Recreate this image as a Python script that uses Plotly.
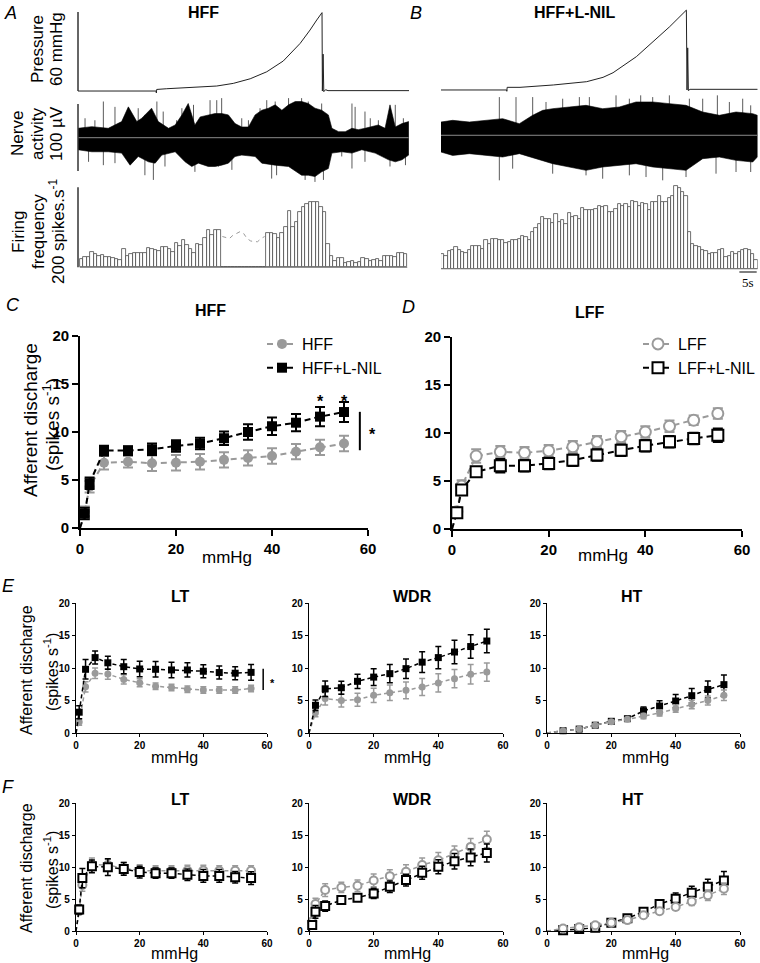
import plotly.graph_objects as go

W, H = 760, 963
def fx(p): return p / W
def fy(p): return 1 - p / H

GREY = "#9a9a9a"
BLACK = "#000000"
FONT = "Liberation Sans, Arial, sans-serif"

# ---------------- Panel A (HFF) raw recording ----------------
a_press_t = [0, 22.2, 22.25, 22.35, 25.2, 34.7, 39.4, 44.1, 48.9, 53.6, 58.3, 63.1, 65.0, 65.9, 67.8, 69.3, 69.4, 69.6, 69.8, 70.3, 71, 94]
a_press_v = [0, 0, -1.5, 1.2, 1.75, 2.8, 3.8, 5.8, 9.3, 14.6, 22.8, 36.2, 42.5, 46.3, 53.9, 59.5, 0, 28, -0.5, 1, 0.3, 0.3]

a_up_t = [0, 3.9, 8.6, 12.4, 14.3, 16.7, 18.1, 20.9, 22.8, 25.7, 27.6, 29.5, 31.3, 33.2, 34.7, 37.0, 38.9, 40.8, 42.7, 44.6,
          46.5, 48.4, 50.3, 52.2, 54.1, 56.0, 57.9, 59.8, 61.7, 63.5, 65.4, 67.3, 69.2, 71.1, 72.1, 74.0, 75.9, 77.8, 79.6, 81.5,
          83.4, 85.3, 87.2, 88.6, 90.1, 92.0, 93.9]
a_up_v = [14, 16.5, 14, 24, 46, 24, 29, 44, 24, 14, 19, 34, 51, 19, 31, 34, 36, 36, 34, 21,
          16, 16, 34, 41, 44, 49, 41, 49, 54, 54, 51, 44, 41, 34, 14, 9, 9, 14, 12, 14,
          16, 19, 14, 49, 16, 21, 24]
a_lo_t = [0, 3.9, 8.6, 12.4, 14.8, 17.1, 20.0, 21.9, 23.8, 27.6, 30.4, 32.3, 34.2, 37.0, 38.9, 40.8, 42.7, 44.6, 46.5, 50.3,
          52.2, 56.0, 59.8, 63.5, 65.4, 67.3, 69.2, 71.1, 72.1, 74.9, 77.8, 80.6, 84.4, 88.2, 90.1, 92.0, 93.9]
a_lo_v = [-18, -21, -21, -23, -41, -28, -36, -38, -26, -21, -36, -43, -38, -43, -43, -41, -38, -28, -26, -28,
          -38, -41, -43, -56, -56, -58, -51, -46, -23, -21, -23, -18, -23, -33, -36, -33, -26]
a_spk_t = [2.0, 4.8, 7.2, 10.5, 17.1, 19.0, 22.4, 24.2, 28.0, 29.5, 32.8, 37.5, 39.4, 40.8, 46.5, 48.4, 51.7, 53.6, 56.0, 59.8,
           63.5, 65.4, 69.2, 77.8, 78.7, 81.5, 83.0, 85.3, 90.1, 92.4,
           3.0, 7.2, 10.5, 19.0, 21.4, 24.7, 33.2, 39.9, 43.7, 55.0, 56.4, 64.5, 67.3, 69.7, 74.9, 77.8, 81.5, 88.6, 93.0]
a_spk_v = [29, 26, 54, 46, 44, 34, 54, 39, 26, 44, 49, 56, 56, 59, 29, 26, 44, 56, 54, 59,
           59, 54, 51, 51, 46, 39, 29, 26, 49, 29,
           -36, -41, -38, -56, -63, -43, -51, -43, -48, -61, -56, -63, -66, -63, -28, -46, -36, -43, -41]

a_bins = [21, 27, 27, 37.5, 34, 29, 31, 26, 25, 23,
          21, 19, 45, 29, 32.5, 37, 37, 37, 37, 47.5,
          46, 42.5, 41, 52, 50, 46, 39, 60, 53, 68,
          56, 46, 35, 57.5, 56, 72.5, 93, 81, 93, 93,
          0, 0, 0, 0, 0, 0, 0, 0, 0, 0, 0, 0, 0,
          85, 85, 82.5, 74, 87, 102, 141, 102, 114, 139,
          152, 157.5, 162.5, 164, 162.5, 152, 139, 58, 29, 17,
          22.5, 22.5, 10, 12.5, 16, 10, 14, 22.5, 20, 17,
          18, 21, 17, 29, 29, 29, 27, 35, 35, 34]
a_gap_t = [41, 42, 43, 44, 45, 46, 47, 48, 49, 50, 51, 52, 53]
a_gap_v = [77, 74, 72, 80, 85, 89, 85, 72, 66, 64, 64, 72, 77]

# ---------------- Panel B (HFF+L-NIL) raw recording ----------------
b_press_t = [0.5, 20.2, 20.25, 20.35, 24.2, 34.2, 44.2, 49.1, 52.1, 54.1, 59.1, 64.1, 69.1, 74.1, 74.3, 74.5, 74.7, 75.2, 95.5]
b_press_v = [0, 0, -1.0, 2.0, 2.0, 3.8, 6.3, 9.6, 13.1, 16.5, 25.3, 36.7, 48.1, 60.7, 0, 32, -0.5, 0.5, 0.5]

b_up_t = [0.5, 4, 9, 14, 19, 24, 28, 31, 34, 39, 44, 49, 54, 59, 64, 69, 74, 79, 84, 89, 94, 95.4]
b_up_v = [19.8, 22.3, 19.8, 22.3, 24.8, 17.3, 29.8, 37.2, 39.7, 42.2, 44.7, 39.7, 42.2, 49.7, 49.7, 47.2, 44.7, 34.7, 29.8, 34.7, 32.3, 29.8]
b_lo_t = [0.5, 4, 9, 14, 19, 24, 29, 34, 39, 44, 49, 54, 59, 64, 69, 74, 79, 84, 89, 94, 95.4]
b_lo_v = [-25, -30, -27.4, -30, -32.4, -27.4, -34.9, -42.4, -47.3, -52.3, -47.3, -44.9, -42.4, -47.3, -49.8, -52.3, -34.9, -32.4, -37.4, -39.9, -32.4]
b_spk_t = [18, 23, 28, 32, 37, 42, 45, 53, 57, 60.4, 64, 69, 75, 79, 83.4, 87, 91, 93.4,
           18, 22, 34, 44, 49, 57, 62, 67, 74, 83, 89, 93.4]
b_spk_v = [57, 57, 57, 49.7, 54.6, 57, 57, 59.6, 54.6, 59.6, 57, 59.6, 54.6, 54.6, 59.6, 49.7, 54.6, 44.7,
           -67.2, -49.8, -57.3, -59.8, -64.8, -59.8, -62.3, -67.2, -62.3, -57.3, -54.8, -54.8]

b_bins = [37.5, 33, 44, 46, 54, 47.5, 42, 40, 46, 57,
          58, 58, 50, 71, 62.5, 75, 75, 71, 71, 65,
          68, 71, 71, 75, 83, 79, 71, 93, 102, 112.5,
          129, 125, 125, 115, 137, 117, 121, 112.5, 140, 129,
          132, 125, 152, 148, 148, 148, 150, 158, 154, 157,
          142, 143, 150, 162.5, 157, 162.5, 154, 170, 167, 158,
          165, 162.5, 148, 167, 167, 183, 167, 167, 177, 183,
          206, 202, 192, 182, 92, 62.5, 58, 54, 46, 44,
          37.5, 40, 40, 46, 50, 29, 33, 42, 37.5, 43,
          46, 50, 46, 37.5, 21]

# ---------------- Panels C-F: afferent discharge (spikes/s) vs pressure (mmHg) ----------------
cd_x = [0, 1, 2, 5, 10, 15, 20, 25, 30, 35, 40, 45, 50, 55]
c_hff = [0, 1.73, 4.3, 6.8, 6.9, 6.75, 6.8, 6.9, 7.1, 7.3, 7.5, 7.95, 8.4, 8.8]
c_hff_err = [0, 0.5, 0.6, 0.7, 0.6, 0.8, 0.8, 0.8, 0.8, 0.8, 0.8, 0.8, 0.8, 0.8]
c_nil = [0, 1.5, 4.67, 8.06, 8.06, 8.2, 8.55, 8.8, 9.35, 10.0, 10.6, 10.97, 11.6, 12.08]
c_nil_err = [0, 0.6, 0.6, 0.5, 0.45, 0.6, 0.6, 0.6, 0.7, 0.8, 0.9, 0.9, 1.0, 1.05]

d_lff = [0, 1.8, 4.47, 7.6, 8.04, 7.94, 8.15, 8.56, 9.08, 9.6, 10.1, 10.7, 11.33, 12.03]
d_lff_err = [0, 0.5, 0.6, 0.7, 0.6, 0.6, 0.6, 0.6, 0.6, 0.6, 0.6, 0.6, 0.5, 0.55]
d_nil = [0, 1.7, 4.06, 5.96, 6.59, 6.59, 6.83, 7.17, 7.7, 8.2, 8.67, 9.08, 9.43, 9.77]
d_nil_err = [0, 0.5, 0.5, 0.5, 0.7, 0.6, 0.6, 0.6, 0.6, 0.6, 0.6, 0.6, 0.6, 0.7]

e_lt_x = [0, 1, 3, 6, 10, 15, 20, 25, 30, 35, 40, 45, 50, 55]
e_lt_hff = [0, 1.7, 7.1, 9.2, 9.07, 8.25, 7.73, 7.2, 7.0, 6.75, 6.6, 6.6, 6.6, 6.86]
e_lt_hff_err = [0, 0.5, 0.8, 0.8, 0.8, 0.7, 0.6, 0.5, 0.5, 0.5, 0.5, 0.5, 0.5, 0.5]
e_lt_nil = [0, 3.2, 9.8, 11.6, 10.8, 10.2, 9.85, 9.8, 9.7, 9.7, 9.5, 9.3, 9.2, 9.33]
e_lt_nil_err = [0, 1.0, 1.5, 1.0, 1.0, 1.1, 1.2, 1.2, 1.2, 1.1, 1.0, 1.0, 1.0, 1.2]

e_wdr_x = [0, 2, 5, 10, 15, 20, 25, 30, 35, 40, 45, 50, 55]
e_wdr_hff = [0, 3.1, 5.3, 5.0, 5.13, 5.8, 6.2, 6.56, 7.08, 7.7, 8.36, 9.03, 9.38]
e_wdr_hff_err = [0, 0.6, 1.0, 1.0, 1.0, 1.1, 1.2, 1.3, 1.3, 1.4, 1.4, 1.5, 1.4]
e_wdr_nil = [0, 4.26, 6.8, 6.97, 7.95, 8.6, 9.13, 9.9, 10.9, 11.6, 12.46, 13.3, 14.15]
e_wdr_nil_err = [0, 0.8, 1.2, 1.0, 1.1, 1.3, 1.4, 1.5, 1.6, 1.7, 1.8, 1.8, 1.8]

ht_x = [0, 5, 10, 15, 20, 25, 30, 35, 40, 45, 50, 55]
e_ht_hff = [0, 0.35, 0.6, 1.2, 1.75, 2.1, 2.6, 3.08, 3.74, 4.4, 5.0, 5.8]
e_ht_hff_err = [0, 0.1, 0.15, 0.2, 0.25, 0.3, 0.4, 0.45, 0.55, 0.65, 0.7, 0.8]
e_ht_nil = [0, 0.35, 0.6, 1.2, 1.8, 2.2, 3.4, 4.15, 4.92, 5.74, 6.7, 7.44]
e_ht_nil_err = [0, 0.1, 0.15, 0.2, 0.25, 0.3, 0.6, 0.8, 1.0, 1.1, 1.3, 1.5]

f_lt_lff = [0, 3.1, 7.2, 10.4, 10.3, 9.8, 9.46, 9.4, 9.4, 9.46, 9.46, 9.4, 9.4, 9.4]
f_lt_lff_err = [0, 0.5, 1.0, 1.0, 0.9, 0.9, 0.9, 0.8, 0.8, 0.8, 0.8, 0.8, 0.8, 0.8]
f_lt_nil = [0, 3.36, 8.27, 10.1, 9.97, 9.7, 9.2, 9.04, 9.04, 8.8, 8.6, 8.6, 8.4, 8.27]
f_lt_nil_err = [0, 0.7, 1.5, 1.0, 1.3, 1.0, 0.9, 0.8, 0.8, 0.9, 1.0, 1.0, 0.9, 1.0]

f_wdr_lff = [0, 1.45, 4.2, 6.4, 6.8, 7.06, 7.9, 8.57, 9.25, 10.3, 11.06, 12.1, 13.14, 14.3]
f_wdr_lff_err = [0, 0.6, 0.9, 1.0, 0.8, 0.9, 1.0, 1.0, 1.1, 1.1, 1.2, 1.2, 1.3, 1.3]
f_wdr_nil = [0, 0.94, 3.0, 3.9, 4.83, 5.2, 5.87, 6.9, 7.95, 9.1, 10.03, 10.9, 11.5, 12.2]
f_wdr_nil_err = [0, 0.5, 1.0, 0.8, 0.4, 0.4, 0.8, 0.9, 0.9, 1.0, 1.1, 1.2, 1.3, 1.4]

f_ht_lff = [0, 0.4, 0.6, 0.9, 1.3, 1.7, 2.45, 3.1, 3.75, 4.6, 5.57, 6.6]
f_ht_lff_err = [0, 0.1, 0.1, 0.15, 0.2, 0.25, 0.3, 0.4, 0.5, 0.6, 0.8, 0.9]
f_ht_nil = [0, 0.1, 0.3, 0.5, 1.3, 2.0, 3.0, 4.2, 5.05, 5.99, 6.9, 7.9]
f_ht_nil_err = [0, 0.1, 0.1, 0.15, 0.2, 0.3, 0.4, 0.7, 0.9, 1.0, 1.2, 1.4]

x_ticks = [0, 20, 40, 60]
y_ticks = [0, 5, 10, 15, 20]

fig = go.Figure()

def axn(i):
    return ("x" if i == 1 else f"x{i}"), ("y" if i == 1 else f"y{i}")

# ---- raw recordings ----
def add_recording(ip, press_t, press_v, up_t, up_v, lo_t, lo_v, spk_t, spk_v, bins):
    xa, ya = axn(ip)
    fig.add_trace(go.Scatter(x=press_t, y=press_v, mode="lines", line=dict(color="#222", width=1),
                             xaxis=xa, yaxis=ya, showlegend=False, hoverinfo="skip"))
    xa, ya = axn(ip + 1)
    sx, sy = [], []
    for t, v in zip(spk_t, spk_v):
        sx += [t, t, None]
        sy += [0, v, None]
    fig.add_trace(go.Scatter(x=sx, y=sy, mode="lines", line=dict(color="#5a5a5a", width=1),
                             xaxis=xa, yaxis=ya, showlegend=False, hoverinfo="skip"))
    fig.add_trace(go.Scatter(x=up_t + lo_t[::-1], y=up_v + lo_v[::-1], mode="lines", fill="toself",
                             fillcolor="black", line=dict(color="black", width=0.6),
                             xaxis=xa, yaxis=ya, showlegend=False, hoverinfo="skip"))
    fig.add_trace(go.Scatter(x=[up_t[0], up_t[-1]], y=[0, 0], mode="lines", line=dict(color="#8a8a8a", width=1),
                             xaxis=xa, yaxis=ya, showlegend=False, hoverinfo="skip"))
    xa, ya = axn(ip + 2)
    fig.add_trace(go.Bar(x=list(range(1, len(bins) + 1)), y=bins,
                         marker=dict(color="white", line=dict(color="#4a4a4a", width=0.8)),
                         xaxis=xa, yaxis=ya, showlegend=False, hoverinfo="skip"))

add_recording(1, a_press_t, a_press_v, a_up_t, a_up_v, a_lo_t, a_lo_v, a_spk_t, a_spk_v, a_bins)
fig.add_trace(go.Scatter(x=a_gap_t, y=a_gap_v, mode="lines", line=dict(color="#9a9a9a", width=1, dash="4px,4px"),
                         xaxis="x3", yaxis="y3", showlegend=False, hoverinfo="skip"))
add_recording(4, b_press_t, b_press_v, b_up_t, b_up_v, b_lo_t, b_lo_v, b_spk_t, b_spk_v, b_bins)

# ---- discharge curves ----
def add_series(i, xs, ys, es, color, symbol, hollow, msize, lw, ew, cap, dash, name=None, legend=None):
    xa, ya = axn(i)
    fig.add_trace(go.Scatter(x=xs[:2], y=ys[:2], mode="lines", line=dict(color=color, width=lw, dash=dash),
                             xaxis=xa, yaxis=ya, showlegend=False, cliponaxis=False, hoverinfo="skip"))
    fig.add_trace(go.Scatter(
        x=xs[1:], y=ys[1:], mode="lines+markers",
        error_y=dict(type="data", array=es[1:], color=color, thickness=ew, width=cap),
        marker=dict(symbol=symbol, size=msize, color="white" if hollow else color,
                    line=dict(color=color, width=2 if hollow else 0)),
        line=dict(color=color, width=lw, dash=dash),
        xaxis=xa, yaxis=ya, name=name, showlegend=name is not None,
        legend=legend if legend else "legend", cliponaxis=False))

BIGD = "6px,4px"
SMD = "4px,3px"
add_series(7, cd_x, c_hff, c_hff_err, GREY, "circle", False, 10, 2, 2, 5, BIGD, "HFF", "legend")
add_series(7, cd_x, c_nil, c_nil_err, BLACK, "square", False, 10, 2, 2, 5, BIGD, "HFF+L-NIL", "legend")
add_series(8, cd_x, d_lff, d_lff_err, GREY, "circle", True, 11, 2, 2, 5, BIGD, "LFF", "legend2")
add_series(8, cd_x, d_nil, d_nil_err, BLACK, "square", True, 11, 2, 2, 5, BIGD, "LFF+L-NIL", "legend2")

add_series(9, e_lt_x, e_lt_hff, e_lt_hff_err, GREY, "circle", False, 7, 1.5, 1.5, 3, SMD)
add_series(9, e_lt_x, e_lt_nil, e_lt_nil_err, BLACK, "square", False, 7, 1.5, 1.5, 3, SMD)
add_series(10, e_wdr_x, e_wdr_hff, e_wdr_hff_err, GREY, "circle", False, 7, 1.5, 1.5, 3, SMD)
add_series(10, e_wdr_x, e_wdr_nil, e_wdr_nil_err, BLACK, "square", False, 7, 1.5, 1.5, 3, SMD)
add_series(11, ht_x, e_ht_nil, e_ht_nil_err, BLACK, "square", False, 7, 1.5, 1.5, 3, SMD)
add_series(11, ht_x, e_ht_hff, e_ht_hff_err, GREY, "circle", False, 7, 1.5, 1.5, 3, SMD)

add_series(12, cd_x, f_lt_lff, f_lt_lff_err, GREY, "circle", True, 8, 1.5, 1.5, 3, SMD)
add_series(12, cd_x, f_lt_nil, f_lt_nil_err, BLACK, "square", True, 8, 1.5, 1.5, 3, SMD)
add_series(13, cd_x, f_wdr_lff, f_wdr_lff_err, GREY, "circle", True, 8, 1.5, 1.5, 3, SMD)
add_series(13, cd_x, f_wdr_nil, f_wdr_nil_err, BLACK, "square", True, 8, 1.5, 1.5, 3, SMD)
add_series(14, ht_x, f_ht_nil, f_ht_nil_err, BLACK, "square", True, 8, 1.5, 1.5, 3, SMD)
add_series(14, ht_x, f_ht_lff, f_ht_lff_err, GREY, "circle", True, 8, 1.5, 1.5, 3, SMD)

# ---- axes ----
layout = {}
def set_axes(i, xpx, ypx, xr, yr, chart=False, big=False):
    xk = "xaxis" if i == 1 else f"xaxis{i}"
    yk = "yaxis" if i == 1 else f"yaxis{i}"
    xa, ya = axn(i)
    xd = dict(domain=[fx(xpx[0]), fx(xpx[1])], range=xr, anchor=ya, showgrid=False, zeroline=False,
              fixedrange=True, automargin=False)
    yd = dict(domain=[fy(ypx[1]), fy(ypx[0])], range=yr, anchor=xa, showgrid=False, zeroline=False,
              fixedrange=True, automargin=False)
    if chart:
        lw = 1.6 if big else 1.2
        tl = 6 if big else 3
        fs = 15 if big else 10
        common = dict(showline=True, linecolor="black", linewidth=lw, ticks="outside", ticklen=tl,
                      tickwidth=lw, tickcolor="black",
                      tickfont=dict(family=FONT, size=fs, color="black", weight="bold"))
        xd.update(common, tickvals=x_ticks)
        yd.update(common, tickvals=y_ticks)
    else:
        xd.update(visible=False)
        yd.update(visible=False)
    layout[xk] = xd
    layout[yk] = yd

set_axes(1, (78, 409), (10, 93), [0, 94], [-1.5, 61.5])
set_axes(2, (78, 409), (96, 183), [0, 94], [-67.6, 62.2])
set_axes(3, (78, 409), (185, 269), [0, 94], [-4.25, 205.75])
set_axes(4, (441, 757.7), (8, 93), [0.5, 95.5], [-2.3, 62.3])
set_axes(5, (441, 757.7), (94, 183), [0.5, 95.5], [-71.2, 61.6])
set_axes(6, (441, 757.7), (184, 270), [0.5, 95.5], [-3.25, 211.75])
set_axes(7, (80, 368), (336, 528), [0, 60], [0, 20], True, True)
set_axes(8, (452, 742), (337, 529), [0, 60], [0, 20], True, True)
set_axes(9, (76, 267), (603, 733), [0, 60], [0, 20], True)
set_axes(10, (309, 503), (603, 733), [0, 60], [0, 20], True)
set_axes(11, (547, 740), (603, 733), [0, 60], [0, 20], True)
set_axes(12, (76, 267), (803, 931), [0, 60], [0, 20], True)
set_axes(13, (309, 503), (803, 931), [0, 60], [0, 20], True)
set_axes(14, (547, 740), (803, 931), [0, 60], [0, 20], True)

# ---- shapes: scale bars, baselines, significance bars ----
shapes = []
def vbar(xref, yref, x, y0, y1, color="#333", width=1.5):
    shapes.append(dict(type="line", xref=xref, yref=yref, x0=x, x1=x, y0=y0, y1=y1,
                       line=dict(color=color, width=width)))
vbar("x domain", "y", 0, 0, 60)
vbar("x2 domain", "y2", 0, -49.7, 50.3)
vbar("x3 domain", "y3", 0, 0, 200)
shapes.append(dict(type="line", xref="x3", yref="y3", x0=0.5, x1=93.5, y0=0, y1=0, line=dict(color="#777", width=1)))
shapes.append(dict(type="line", xref="x6", yref="y6", x0=0.5, x1=95.5, y0=0, y1=0, line=dict(color="#777", width=1)))
shapes.append(dict(type="line", xref="x6", yref="paper", x0=90, x1=95.2, y0=fy(272), y1=fy(272),
                   line=dict(color="black", width=1.2)))
vbar("x7", "y7", 58.3, 8.1, 12.1, color="black", width=2)
vbar("x9", "y9", 58.8, 6.6, 9.9, color="black", width=1.5)

# ---- annotations ----
anns = []
def ann(text, x, y, size, bold=False, italic=False, angle=0, family=FONT, xanchor="center", yanchor="middle"):
    if bold:
        text = f"<b>{text}</b>"
    if italic:
        text = f"<i>{text}</i>"
    anns.append(dict(text=text, x=fx(x), y=fy(y), xref="paper", yref="paper", showarrow=False,
                     font=dict(size=size, family=family, color="black"), textangle=angle,
                     xanchor=xanchor, yanchor=yanchor))

for letter, x, y in [("A", 10, 13), ("B", 416, 13), ("C", 13, 305), ("D", 408, 307), ("E", 8, 586), ("F", 8, 787)]:
    ann(letter, x, y, 18, italic=True)
ann("HFF", 203, 13, 16, bold=True)
ann("HFF+L-NIL", 575, 13, 16, bold=True)
ann("Pressure", 38, 49, 17, angle=-90)
ann("60 mmHg", 57, 49, 17, angle=-90)
ann("Nerve", 18, 134, 17, angle=-90)
ann("activity", 38, 134, 17, angle=-90)
ann("100 µV", 57, 134, 17, angle=-90)
ann("Firing", 18, 232, 17, angle=-90)
ann("frequency", 38, 232, 17, angle=-90)
ann("200 spikes.s<sup>-1</sup>", 57, 232, 17, angle=-90)
ann("5s", 747.5, 282, 13, family="Liberation Serif, Times New Roman, serif")

ann("HFF", 210, 310, 16, bold=True)
ann("LFF", 590, 312, 16, bold=True)
ann("Afferent discharge", 30, 420, 19, angle=-90)
ann("(spikes s<sup>-1</sup>)", 51, 425, 19, angle=-90)
ann("mmHg", 227, 557, 17)
ann("mmHg", 603, 555, 17)

for title, x in [("LT", 180), ("WDR", 412), ("HT", 632)]:
    ann(title, x, 596, 16, bold=True)
for title, x in [("LT", 180), ("WDR", 412), ("HT", 633)]:
    ann(title, x, 799, 16, bold=True)
for y0 in (670, 868):
    ann("Afferent discharge", 26, y0, 16, angle=-90)
    ann("(spikes s<sup>-1</sup>)", 51, y0 + 2, 16, angle=-90)
for x in (174, 407, 645):
    ann("mmHg", x, 757, 16)
    ann("mmHg", x, 953, 16)

# significance asterisks
ann("<b>*</b>", 372, 434, 16)
ann("<b>*</b>", 272, 683, 11)
for xs, ys in [(50, 13.2), (55, 13.2)]:
    anns.append(dict(text="<b>*</b>", x=xs, y=ys, xref="x7", yref="y7", showarrow=False,
                     font=dict(size=16, family=FONT, color="black"), xanchor="center", yanchor="middle"))

layout.update(
    width=W, height=H, margin=dict(l=0, r=0, t=0, b=0, pad=0, autoexpand=False), autosize=False,
    paper_bgcolor="white", plot_bgcolor="rgba(0,0,0,0)",
    bargap=0, barmode="overlay",
    font=dict(family=FONT, color="black"),
    shapes=shapes, annotations=anns,
    legend=dict(x=fx(262), y=fy(327), xanchor="left", yanchor="top", bgcolor="rgba(0,0,0,0)",
                font=dict(size=16, family=FONT, color="black"), itemwidth=30, tracegroupgap=0,
                traceorder="normal"),
    legend2=dict(x=fx(638), y=fy(327), xanchor="left", yanchor="top", bgcolor="rgba(0,0,0,0)",
                 font=dict(size=16, family=FONT, color="black"), itemwidth=30, tracegroupgap=0,
                 traceorder="normal"),
)
fig.update_layout(**layout)
fig.write_html("out.html", config={"displayModeBar": False},
               post_script="document.body.style.margin='0';document.body.style.padding='0';")
